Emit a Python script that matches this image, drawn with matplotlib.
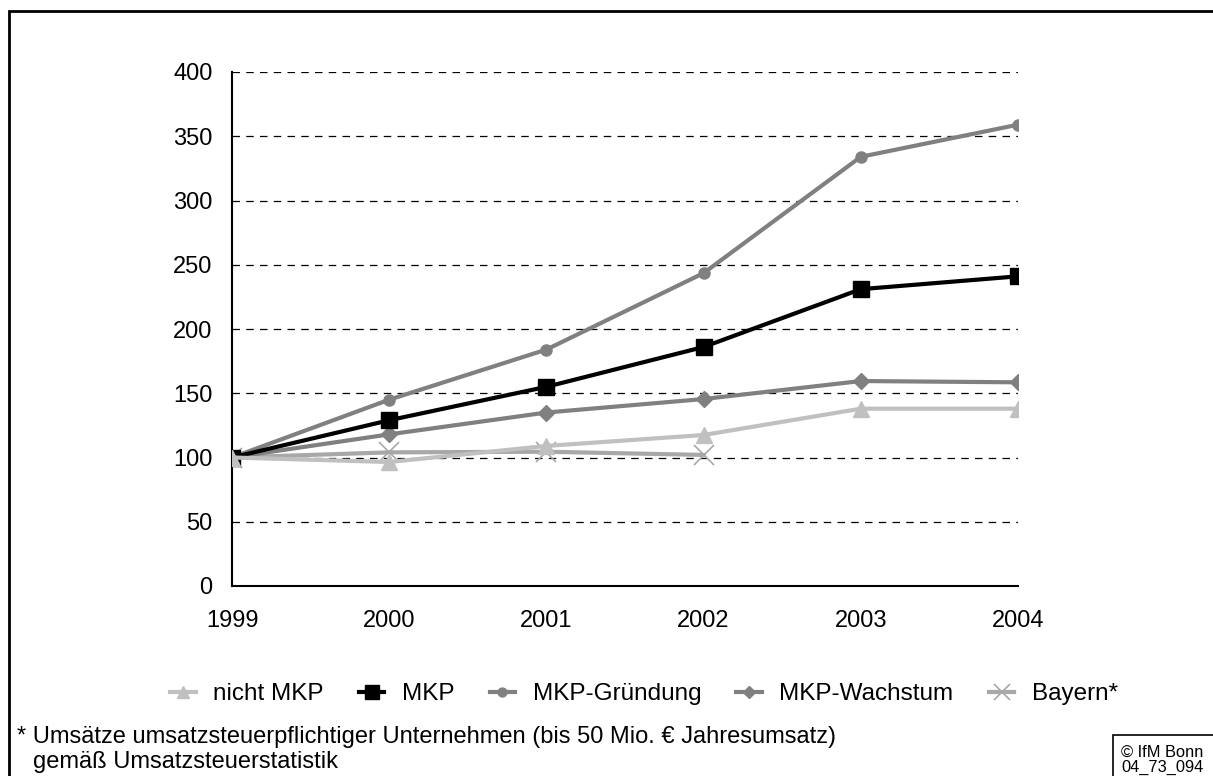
import matplotlib.pyplot as plt
from matplotlib.patches import Rectangle

plt.rcParams['font.family'] = ['Liberation Sans', 'DejaVu Sans']

# Daten (Index 1999 = 100)
jahre = [1999, 2000, 2001, 2002, 2003, 2004]
nicht_mkp = [100, 96.5, 109, 117.5, 138, 138]
mkp = [100, 129, 155, 186, 231, 241]
mkp_gruendung = [100, 145, 184, 243.5, 334, 359]
mkp_wachstum = [100, 118, 135, 145.5, 159.5, 158.5]
bayern_jahre = [1999, 2000, 2001, 2002]
bayern = [100, 104, 104.5, 102]
y_ticks = [0, 50, 100, 150, 200, 250, 300, 350, 400]

W, H = 1213, 776
fig = plt.figure(figsize=(W / 100, H / 100), dpi=100)
ax = fig.add_axes([232 / W, 1 - 586 / H, (1018 - 232) / W, (586 - 72) / H])

ax.plot(jahre, nicht_mkp, color='#c0c0c0', lw=3, marker='^', ms=11, label='nicht MKP', zorder=6)
ax.plot(jahre, mkp, color='black', lw=3, marker='s', ms=12, label='MKP', zorder=5)
ax.plot(jahre, mkp_gruendung, color='#808080', lw=3, marker='o', ms=8, label='MKP-Gründung', zorder=4)
ax.plot(jahre, mkp_wachstum, color='#808080', lw=3, marker='D', ms=8, label='MKP-Wachstum', zorder=4)
ax.plot(bayern_jahre, bayern, color='#a8a8a8', lw=3, marker='x', ms=14, mew=1.2,
        label='Bayern*', zorder=3)

ax.set_xlim(1999, 2004)
ax.set_ylim(0, 400)
ax.set_yticks(y_ticks)
ax.set_xticks(jahre)
ax.tick_params(length=0, labelsize=17)
ax.tick_params(axis='y', pad=14)
ax.tick_params(axis='x', pad=17)
for y in y_ticks[1:]:
    ax.axhline(y, color='black', lw=0.9, ls=(0, (6, 5)), zorder=1)
for s in ['top', 'right']:
    ax.spines[s].set_visible(False)
ax.spines['left'].set_linewidth(1.5)
ax.spines['bottom'].set_linewidth(1.5)

# Legende unter dem Diagramm
leg = fig.legend(*ax.get_legend_handles_labels(), loc='center left',
                 bbox_to_anchor=(170 / W, 1 - 694 / H), ncol=5, frameon=False,
                 fontsize=17.5, handlelength=1.05, markerscale=0.8, columnspacing=1.45,
                 handletextpad=0.72, borderpad=0, borderaxespad=0)

# Rahmen
fig.patches.append(Rectangle((9 / W, -0.1), 1.2, 0.1 + 1 - 11 / H, transform=fig.transFigure,
                             fill=False, lw=2, ec='black'))

fig.text(17 / W, 1 - 743 / H, '* Umsätze umsatzsteuerpflichtiger Unternehmen (bis 50 Mio. € Jahresumsatz)',
         fontsize=17, va='baseline', ha='left')
fig.text(33 / W, 1 - 768 / H, 'gemäß Umsatzsteuerstatistik',
         fontsize=17, va='baseline', ha='left')

fig.patches.append(Rectangle((1113 / W, -0.1), 0.2, 0.1 + 1 - 735 / H, transform=fig.transFigure,
                             fill=False, lw=1.2, ec='black'))
fig.text(1121 / W, 1 - 757 / H, '© IfM Bonn', fontsize=11.8, va='baseline', ha='left')
fig.text(1121 / W, 1 - 772 / H, '04_73_094', fontsize=11.8, va='baseline', ha='left')

fig.savefig('out.png', dpi=100)
